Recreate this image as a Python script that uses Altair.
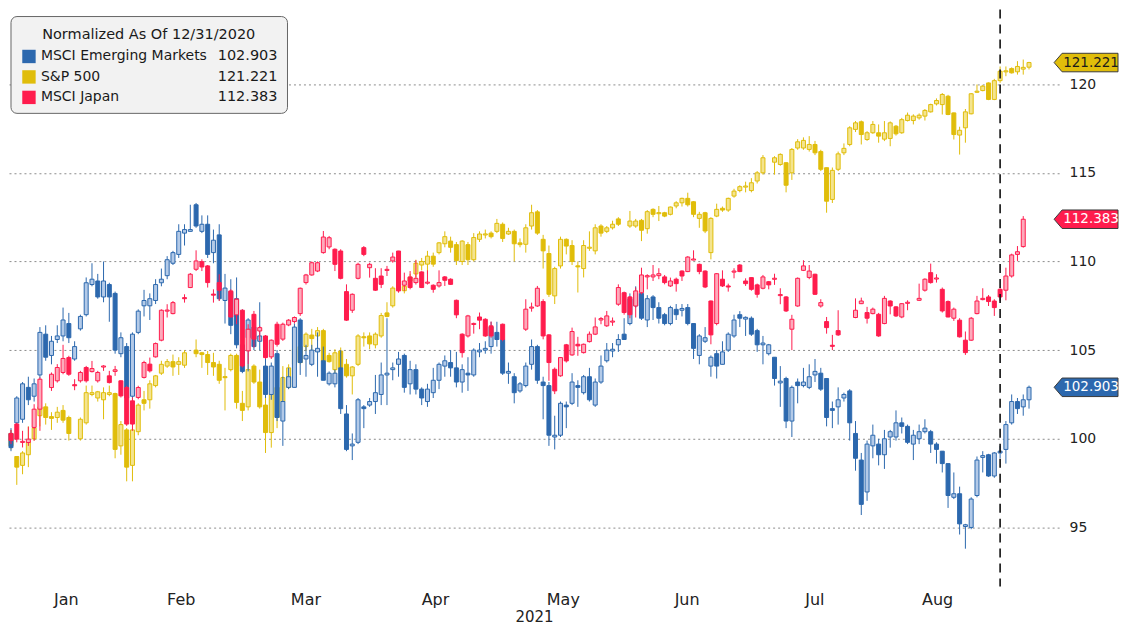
import altair as alt
import pandas as pd

# ---------------- data (normalised to 12/31/2020 = 100) ----------------
N = None
em_open = [
    100.3, 100.9, 101.1, 102.9, 102.4, 103.6, 105.9, 104.7, 105.6, 105.8,
    106.5, 104.5, 106.2, 107.0, 108.7, 108.9, 108.0, 108.7, 108.2, 104.8,
    105.2, 102.4, 106.0, 107.5, 107.5, 107.8, 108.8, 109.2, 109.9, 110.4,
    111.6, 111.7, 113.2, 111.7, 112.1, 110.5, 111.5, 107.8, 108.3, 107.9,
    105.3, 105.7, 106.3, 105.5, 104.1, 102.5, 104.8, 101.0, 102.9, 102.9,
    106.7, 104.5, 104.2, 104.9, 104.4, 103.1, 103.1, 104.0, 101.4, 99.6,
    99.8, 101.8, 101.9, 102.1, 102.5, 103.6, 103.9, 104.2, 104.7, 103.1,
    103.9, 102.8, 102.1, 102.6, 103.3, 104.1, 104.3, 104.0, 103.2, 103.7,
    103.6, 104.9, 105.0, 105.2, 106.0, 105.6, 103.7, 103.5, 102.7, 103.0,
    104.2, 105.2, 103.2, 103.0, 100.1, 100.2, 101.9, 102.0, 103.0, 102.6,
    103.5, 101.9, 103.2, 104.4, 104.95, 105.3, 105.9, 106.5, 107.5, 108.2,
    106.7, 108.0, 107.4, 107.0, 106.5, 107.3, 107.25, 107.4, 106.5, 104.7,
    105.5, 104.1, 104.8, 104.2, 105.0, 105.8, 107.0, 106.75, 106.8, 106.1,
    105.3, 104.8, 104.6, 103.15, 103.4, 101.0, 103.2, 103.0, 102.9, 103.6,
    103.7, 103.4, 101.7, 101.8, 102.3, 102.7, 100.3, 98.8, 97.0, 99.6,
    99.7, 99.1, 100.1, 100.1, 100.9, 100.7, 99.7, 100.0, 100.4, 100.4,
    99.7, 99.3, 98.6, 96.7, 96.9, 95.05, 95.0, 96.8, 98.95, 99.1,
    97.9, 99.2, 99.4, 100.9, 102.1, 101.8, 102.2]
em_close = [
    99.5, 102.3, 103.1, 102.2, 103.1, 106.0, 104.6, 105.5, 105.8, 106.7,
    105.7, 105.2, 106.9, 108.8, 109.0, 108.0, 108.9, 108.0, 105.0, 105.7,
    102.3, 105.9, 107.2, 107.8, 107.9, 108.7, 109.0, 110.1, 110.5, 111.7,
    111.8, 111.8, 112.0, 112.1, 110.4, 111.2, 107.9, 108.5, 106.4, 105.3,
    103.8, 106.7, 105.2, 105.8, 102.5, 104.1, 101.2, 102.1, 103.5, 106.3,
    104.3, 104.7, 105.0, 105.1, 103.3, 103.7, 103.7, 101.7, 99.4, 99.7,
    102.2, 101.7, 102.1, 102.6, 103.6, 103.7, 104.0, 104.5, 102.9, 103.9,
    102.8, 102.3, 102.8, 103.3, 104.2, 104.4, 104.0, 103.2, 103.9, 103.6,
    105.0, 105.0, 105.1, 106.3, 105.6, 103.7, 103.8, 102.6, 103.1, 104.1,
    105.2, 103.3, 103.0, 100.2, 100.2, 102.0, 101.8, 103.2, 102.9, 103.5,
    102.2, 103.2, 104.1, 105.0, 105.05, 105.6, 105.6, 107.9, 108.2, 106.8,
    107.9, 107.4, 106.8, 106.5, 107.4, 107.0, 107.35, 106.5, 105.1, 105.8,
    105.7, 104.6, 104.1, 104.9, 105.9, 106.7, 106.8, 106.85, 105.9, 105.3,
    105.4, 105.3, 103.4, 103.25, 101.0, 102.9, 103.0, 103.2, 103.5, 103.8,
    102.8, 101.2, 101.6, 102.2, 102.5, 100.9, 98.9, 96.3, 99.7, 100.2,
    99.1, 100.0, 100.4, 100.9, 100.7, 99.8, 100.2, 100.4, 100.6, 99.7,
    99.4, 98.6, 96.8, 96.9, 95.2, 95.15, 96.6, 98.8, 99.05, 97.9,
    99.2, 99.3, 100.8, 102.1, 101.7, 102.2, 102.903]
em_high = [
    100.6, 102.4, 103.2, 103.5, 103.4, 106.3, 106.4, 105.8, 106.4, 107.4,
    107.1, 105.5, 107.0, 109.1, 109.9, 109.3, 110.0, 108.8, 108.3, 106.0,
    105.4, 106.0, 107.3, 108.4, 108.2, 109.0, 109.6, 110.3, 110.6, 112.1,
    112.1, 113.2, 113.3, 112.6, 112.6, 111.8, 112.1, 109.3, 109.0, 109.1,
    107.3, 106.8, 106.5, 107.7, 104.5, 104.3, 105.0, 103.5, 104.0, 106.5,
    106.8, 105.3, 105.3, 106.0, 105.2, 103.8, 103.9, 105.0, 101.9, 100.3,
    102.3, 101.9, 102.3, 103.6, 104.3, 106.8, 104.3, 104.9, 104.8, 104.4,
    104.2, 102.9, 103.1, 104.0, 104.3, 104.7, 105.0, 104.9, 104.2, 104.6,
    105.1, 105.4, 105.5, 106.6, 106.6, 105.7, 104.3, 103.7, 103.2, 104.3,
    105.6, 105.3, 103.5, 103.2, 101.3, 102.1, 102.1, 103.7, 103.3, 103.6,
    104.0, 103.4, 104.7, 105.4, 105.4, 105.9, 106.8, 108.2, 108.6, 108.4,
    108.1, 108.1, 107.7, 107.1, 107.5, 107.6, 107.6, 107.6, 106.5, 105.9,
    106.3, 104.7, 105.0, 105.5, 106.0, 107.0, 107.2, 106.9, 106.9, 106.2,
    105.8, 105.35, 104.6, 104.1, 103.5, 103.0, 103.4, 104.0, 104.2, 104.5,
    104.0, 103.4, 102.1, 102.9, 102.6, 102.8, 101.0, 99.2, 99.9, 100.8,
    100.0, 100.5, 100.5, 101.6, 101.2, 100.8, 100.5, 100.8, 101.1, 100.5,
    99.8, 99.3, 98.6, 98.1, 97.3, 95.2, 96.7, 99.0, 99.3, 99.15,
    99.25, 99.6, 101.0, 102.5, 102.3, 102.5, 103.0]
em_low = [
    99.3, 100.5, 100.9, 101.9, 102.1, 103.4, 104.4, 104.2, 105.4, 105.5,
    105.4, 104.4, 106.1, 106.9, 108.6, 107.9, 107.7, 106.6, 104.8, 104.6,
    101.7, 102.2, 105.9, 106.9, 106.7, 107.6, 108.6, 109.0, 109.8, 110.2,
    110.9, 111.7, 111.9, 111.6, 110.2, 109.9, 107.8, 106.5, 105.9, 105.1,
    103.7, 103.8, 105.0, 105.0, 102.3, 102.2, 101.0, 99.6, 102.8, 102.9,
    103.6, 103.5, 104.1, 103.5, 103.3, 103.0, 102.9, 101.4, 99.3, 98.8,
    99.7, 100.6, 101.8, 101.4, 101.9, 101.9, 103.3, 103.5, 102.6, 102.5,
    102.5, 101.9, 101.8, 102.3, 102.8, 103.5, 103.5, 102.9, 102.6, 102.7,
    103.5, 104.6, 104.8, 104.8, 105.2, 103.6, 103.1, 102.0, 102.6, 102.9,
    103.9, 103.1, 101.1, 99.6, 99.4, 100.1, 100.6, 101.9, 101.8, 102.5,
    102.1, 101.8, 103.1, 104.3, 104.6, 104.9, 105.6, 106.4, 107.4, 106.7,
    106.3, 106.7, 106.5, 106.4, 106.4, 106.7, 106.9, 106.4, 104.5, 104.2,
    105.4, 103.5, 103.4, 104.2, 104.9, 105.7, 106.3, 105.8, 105.8, 104.9,
    104.2, 104.7, 103.0, 101.8, 100.6, 100.1, 102.0, 102.9, 102.8, 103.2,
    102.7, 100.7, 100.6, 100.8, 102.1, 99.9, 98.2, 95.7, 96.5, 98.9,
    98.5, 98.3, 99.5, 99.9, 100.3, 99.7, 98.8, 99.7, 100.3, 99.2,
    98.6, 98.1, 96.1, 96.6, 94.6, 93.8, 94.9, 96.7, 98.1, 97.85,
    97.8, 98.9, 98.6, 100.8, 101.4, 101.3, 101.7]

spx_open = [
    100.3, 99.0, 98.5, 99.1, 100.0, 101.3, 101.8, 101.25, 101.2, 101.6,
    101.2, N, 100.0, 100.9, 102.5, 102.3, 102.2, 102.5, 102.55, 99.6,
    100.5, 98.5, 100.4, 102.2, 102.2, 103.0, 103.7, 104.1, 104.35, 104.2,
    104.15, N, 105.0, 104.85, 104.75, 104.3, 104.2, 103.5, 103.9, 104.7,
    102.0, 101.8, 104.1, 103.2, 101.9, 100.35, 102.9, 102.1, 102.9, 104.2,
    105.2, 105.2, 105.85, 105.8, 106.1, 104.7, 103.9, 104.95, 104.2, 103.55,
    104.2, 105.75, 105.8, 105.3, 105.8, 107.1, 107.5, 108.5, 108.35, 108.9,
    109.3, 109.8, 109.85, 110.3, 110.5, 111.0, 111.15, 110.95, 110.0, 110.95,
    110.1, 111.25, 111.5, 111.6, 111.7, 112.1, 111.55, 111.7, 111.05, 110.97,
    112.0, 112.8, 111.25, 110.45, 108.06, 109.75, 111.25, 110.9, 109.75, 109.6,
    110.75, 110.6, 112.0, 111.7, 111.9, 112.4, N, 112.0, 112.0, 112.32,
    111.85, 112.94, 112.7, 112.75, 112.66, 113.13, 113.31, 113.56, 113.37, 112.43,
    112.75, 110.5, 112.56, 113.0, 112.9, 113.69, 114.0, 114.2, 114.0, 114.54,
    115.0, N, 115.6, 115.47, 115.57, 115.0, 116.4, 116.4, 116.32, 116.6,
    116.2, 115.29, 113.5, 115.2, 116.13, 116.6, 117.45, 117.88, 116.88, 117.26,
    117.26, 116.9, 116.94, 117.63, 117.26, 117.95, 117.95, 118.1, 118.2, 118.44,
    118.89, 118.85, 119.32, 118.38, 117.13, 117.54, 118.33, 119.55, 119.64, 120.07,
    119.14, 120.2, 120.7, 120.88, 120.7, 120.85, 120.96]
spx_close = [
    99.6, 98.4, 99.2, 99.85, 100.6, 101.8, 101.2, 101.15, 101.5, 101.05,
    100.3, N, 101.1, 102.6, 102.6, 102.65, 102.6, 102.6, 99.4, 100.8,
    98.4, 100.5, 101.9, 102.0, 103.1, 103.55, 104.2, 104.35, 104.05, 104.35,
    104.85, N, 104.8, 104.75, 104.3, 104.05, 103.3, 103.45, 104.7, 102.05,
    101.6, 103.9, 103.2, 101.8, 100.35, 102.5, 101.2, 103.45, 104.0, 105.05,
    104.3, 105.9, 105.65, 106.1, 104.4, 104.35, 104.85, 104.0, 103.55, 104.05,
    105.8, 105.7, 105.35, 105.9, 106.95, 106.9, 108.5, 108.6, 108.6, 109.1,
    109.9, 110.0, 110.3, 109.85, 111.05, 111.4, 110.8, 110.05, 111.15, 110.1,
    111.35, 111.55, 111.55, 111.4, 112.15, 111.3, 111.7, 111.0, 110.95, 111.9,
    112.75, 111.6, 110.6, 108.15, 109.6, 111.25, 110.87, 110.0, 109.7, 110.9,
    110.8, 111.9, 111.6, 111.9, 112.1, 112.1, N, 112.28, 112.28, 111.76,
    112.81, 112.66, 112.75, 112.56, 113.07, 113.31, 113.56, 113.2, 112.66, 112.66,
    111.72, 112.43, 112.94, 112.9, 113.56, 113.97, 114.22, 114.25, 114.44, 115.0,
    115.85, N, 115.85, 116.04, 114.3, 116.32, 116.75, 116.83, 116.6, 116.13,
    115.2, 113.4, 115.14, 116.07, 116.38, 117.54, 117.82, 117.16, 117.26, 117.73,
    117.07, 117.26, 117.82, 117.2, 118.0, 118.25, 118.2, 118.25, 118.52, 118.85,
    119.08, 119.42, 118.29, 117.16, 117.4, 118.44, 119.46, 119.6, 119.89, 119.14,
    120.2, 120.73, 120.75, 120.64, 121.0, 120.95, 121.221]
spx_high = [
    100.5, 99.0, 99.3, 100.7, 100.9, 102.0, 102.0, 101.5, 101.8, 101.9,
    101.3, N, 101.2, 103.0, 103.0, 102.7, 102.9, 103.0, 102.6, 101.0,
    100.6, 100.6, 102.0, 102.7, 103.3, 103.6, 104.4, 104.5, 104.75, 104.6,
    105.0, N, 105.6, 104.9, 104.95, 104.85, 104.4, 104.0, 104.8, 104.8,
    102.7, 104.2, 104.2, 103.9, 102.5, 102.7, 103.0, 104.1, 104.2, 105.15,
    105.4, 106.0, 106.2, 106.3, 106.2, 104.85, 105.05, 105.15, 104.5, 104.1,
    105.9, 106.0, 106.0, 106.0, 107.1, 107.7, 108.6, 108.9, 108.8, 109.3,
    110.1, 110.2, 110.6, 110.5, 111.1, 111.7, 111.4, 111.1, 111.2, 111.1,
    111.6, 111.7, 111.8, 111.7, 112.4, 112.2, 111.9, 111.8, 111.3, 112.1,
    113.2, 112.9, 111.5, 110.9, 109.7, 111.4, 111.3, 111.2, 110.0, 111.2,
    111.7, 112.1, 112.1, 112.0, 112.3, 112.5, N, 112.85, 112.4, 112.4,
    112.9, 113.0, 113.13, 112.8, 113.1, 113.4, 113.6, 113.88, 113.4, 112.8,
    112.8, 112.5, 113.26, 113.1, 113.6, 114.1, 114.3, 114.5, 114.7, 115.1,
    116.0, N, 115.94, 116.1, 115.6, 116.4, 116.9, 117.0, 117.07, 116.8,
    116.3, 115.3, 115.3, 116.2, 116.66, 117.63, 117.92, 117.95, 117.35, 117.92,
    117.73, 117.92, 117.9, 117.7, 118.1, 118.4, 118.3, 118.35, 118.6, 118.9,
    119.2, 119.5, 119.4, 118.4, 117.6, 118.6, 119.5, 119.98, 119.95, 120.1,
    120.3, 121.0, 121.0, 120.95, 121.3, 121.39, 121.26]
spx_low = [
    99.4, 97.4, 98.0, 98.4, 99.9, 100.7, 100.8, 100.5, 100.9, 100.9,
    99.9, N, 99.9, 100.8, 102.4, 102.1, 101.1, 102.4, 98.9, 99.1,
    97.6, 97.6, 100.2, 101.6, 101.7, 102.9, 103.6, 104.0, 103.55, 103.6,
    104.0, N, 104.6, 104.0, 103.6, 103.55, 103.1, 101.6, 103.8, 101.7,
    101.0, 101.6, 103.1, 101.7, 99.2, 99.5, 100.6, 101.4, 102.8, 104.0,
    104.2, 104.95, 104.95, 105.5, 104.2, 104.3, 103.6, 103.45, 103.45, 102.5,
    104.1, 105.2, 105.05, 105.1, 105.7, 106.85, 107.4, 108.3, 108.2, 108.6,
    109.1, 109.5, 109.3, 109.7, 110.4, 110.8, 110.5, 109.8, 109.8, 109.8,
    110.0, 111.1, 111.3, 111.3, 111.6, 111.1, 111.5, 110.0, 110.8, 110.5,
    111.8, 111.5, 109.6, 108.0, 107.6, 109.6, 110.4, 109.8, 108.25, 109.1,
    110.6, 110.4, 111.4, 111.6, 111.8, 112.0, N, 111.9, 111.9, 111.15,
    111.57, 112.5, 112.28, 112.5, 112.6, 113.0, 113.1, 113.1, 112.5, 111.9,
    111.6, 110.12, 112.5, 112.8, 112.8, 113.6, 113.9, 113.9, 113.9, 114.4,
    114.9, N, 114.9, 115.4, 113.9, 114.6, 116.3, 116.3, 116.2, 116.0,
    115.1, 112.75, 113.3, 115.1, 116.0, 116.5, 117.3, 116.6, 116.8, 117.2,
    116.7, 116.79, 116.5, 117.1, 117.2, 117.9, 117.73, 118.0, 117.95, 118.4,
    118.8, 118.29, 118.25, 116.88, 116.03, 116.7, 118.3, 119.5, 119.6, 119.1,
    119.1, 120.08, 120.45, 120.6, 120.54, 120.54, 120.83]

jpn_open = [
    100.3, 100.83, 99.8, 99.79, 100.64, 101.67, N, 102.89, 103.27, 103.74,
    104.58, 103.04, 103.27, 104.02, 103.79, 103.27, 104.05, 103.55, 103.8, 103.27,
    102.89, 102.14, 102.33, 103.46, 104.21, 104.62, 105.56, 107.21, 107.06, N,
    107.95, 108.53, 109.56, 109.99, 109.75, 108.15, 108.81, N, 108.34, 106.99,
    107.25, 104.96, 107.02, 106.08, 105.8, 104.62, 106.46, 105.62, 106.42, 106.61,
    107.06, 108.81, 109.24, 109.46, 110.5, 110.82, 110.69, 110.59, 108.3, 107.25,
    109.05, 110.78, 109.65, 109.05, 109.18, 109.5, 110.03, 110.59, 108.66, 109.13,
    108.81, 109.41, 108.8, 108.66, 108.62, 109.13, 109.0, 107.81, 105.9, 105.8,
    106.45, 106.87, 106.74, 106.37, N, 106.46, N, N, N, 106.18,
    107.38, 107.49, 107.74, 105.86, 103.92, 103.55, 105.3, 104.73, 105.33, 104.86,
    105.48, 105.9, 106.7, 106.37, 106.6, 107.59, 108.24, 108.0, 107.49, 108.24,
    109.13, 109.13, 109.2, 109.13, 108.62, 109.0, 109.46, 109.43, 110.1, 109.84,
    109.46, 107.77, 106.5, 109.0, 108.6, 109.4, 109.8, 108.9, 109.09, 108.68,
    108.49, 108.86, 109.0, 108.1, 108.0, 106.18, 107.49, 109.5, 109.1, 109.28,
    107.49, 106.61, 105.25, 106.1, N, N, 106.84, 107.62, 107.12, 107.06,
    107.02, 106.5, 107.77, 107.44, 106.87, 107.66, N, 107.81, 108.38, 109.37,
    109.03, 108.43, 107.74, 106.8, 106.69, 105.56, 105.56, 107.06, 107.85, 108.0,
    107.77, 108.43, 108.38, 109.18, 110.4, 110.84, N]
jpn_close = [
    99.9, 99.98, 99.85, 99.98, 101.67, 103.36, N, 103.64, 104.02, 104.53,
    103.64, 103.0, 103.74, 103.27, 103.96, 103.74, 104.1, 103.17, 103.89, 102.42,
    100.83, 100.83, 102.89, 104.3, 103.83, 105.37, 107.25, 107.25, 107.68, N,
    107.91, 109.28, 110.03, 109.69, 108.81, 108.11, 108.38, N, 106.87, 107.87,
    104.11, 106.18, 105.62, 106.27, 104.58, 105.56, 105.33, 106.46, 106.69, 106.84,
    108.49, 109.24, 109.93, 109.93, 111.38, 111.34, 109.84, 109.05, 106.69, 108.15,
    109.84, 110.4, 109.84, 108.38, 108.71, 109.55, 110.25, 108.34, 108.9, 108.53,
    109.05, 108.53, 108.81, 108.43, 108.81, 108.94, 108.71, 106.99, 104.86, 106.93,
    106.5, 106.69, 105.8, 105.8, N, 105.6, N, N, N, 107.31,
    107.42, 108.49, 105.8, 104.3, 102.7, 104.58, 104.39, 106.05, 105.24, 105.33,
    105.9, 106.31, 106.78, 106.93, 106.62, 108.53, 107.12, 107.0, 108.34, 109.24,
    109.2, 109.24, 109.31, 108.81, 108.9, 108.75, 109.18, 110.25, 110.12, 109.43,
    108.56, 105.86, 109.31, 108.62, 108.58, 109.46, 109.43, 108.75, 108.43, 108.15,
    109.13, 108.68, 109.05, 108.11, 107.21, 106.74, 109.05, 109.75, 109.46, 108.15,
    107.68, 106.27, 105.24, 105.86, N, N, 107.25, 107.77, 106.8, 107.31,
    105.8, 107.92, 107.49, 106.93, 107.62, 107.68, N, 107.92, 109.0, 108.81,
    109.05, 107.21, 106.87, 107.31, 105.75, 104.86, 106.8, 107.77, 107.92, 107.74,
    107.4, 108.0, 109.18, 110.37, 110.55, 112.383, N]
jpn_high = [
    100.5, 100.9, 100.45, 100.68, 101.95, 103.46, N, 103.74, 104.21, 105.3,
    104.68, 103.36, 103.83, 104.11, 104.39, 103.83, 104.15, 103.83, 104.11, 103.3,
    102.99, 102.33, 102.99, 104.4, 104.58, 105.43, 107.3, 107.59, 107.77, N,
    108.15, 109.35, 110.63, 110.12, 109.8, 108.43, 109.28, N, 108.43, 107.95,
    107.3, 106.46, 107.21, 106.37, 105.85, 105.6, 106.6, 106.55, 106.75, 106.9,
    108.53, 109.3, 110.0, 110.0, 111.72, 111.44, 110.74, 110.69, 108.71, 108.2,
    109.93, 110.87, 109.93, 109.62, 109.62, 109.75, 110.5, 110.6, 109.37, 109.46,
    110.07, 109.45, 109.5, 108.71, 109.5, 109.18, 109.05, 107.85, 105.95, 106.99,
    106.55, 107.12, 106.8, 106.61, N, 106.5, N, N, N, 107.87,
    107.68, 108.62, 107.87, 105.9, 104.02, 104.6, 105.35, 106.27, 105.75, 105.37,
    106.05, 106.84, 106.87, 107.21, 106.84, 108.71, 108.3, 108.05, 108.53, 109.65,
    109.28, 109.8, 109.62, 109.24, 109.09, 109.09, 109.5, 110.3, 110.63, 109.88,
    109.5, 107.8, 109.35, 109.5, 108.75, 109.62, 109.85, 109.05, 109.1, 108.75,
    109.24, 108.9, 109.31, 108.49, 108.05, 106.99, 109.1, 110.07, 109.8, 109.31,
    107.87, 106.87, 105.86, 107.25, N, N, 107.92, 107.96, 107.44, 107.4,
    107.1, 108.06, 107.81, 107.49, 107.65, 107.81, N, 108.75, 109.05, 109.88,
    109.28, 108.53, 107.8, 107.4, 106.8, 106.05, 106.87, 108.06, 108.49, 108.11,
    107.87, 108.53, 109.65, 110.44, 110.87, 112.56, N]
jpn_low = [
    99.7, 99.8, 99.51, 99.6, 99.89, 100.45, N, 102.7, 103.17, 103.64,
    103.55, 102.74, 103.17, 103.17, 103.74, 103.17, 103.83, 103.12, 103.55, 102.33,
    100.73, 100.45, 102.23, 103.4, 103.74, 104.58, 105.5, 106.84, 107.02, N,
    107.68, 108.5, 109.46, 109.46, 108.53, 107.68, 107.77, N, 106.84, 106.46,
    104.02, 104.21, 105.15, 105.52, 104.5, 104.5, 105.2, 105.52, 106.35, 106.5,
    106.93, 108.7, 109.2, 109.4, 110.44, 110.69, 109.46, 108.99, 106.65, 107.1,
    108.99, 110.3, 109.09, 108.34, 108.5, 109.18, 109.93, 108.24, 108.34, 108.43,
    108.7, 108.5, 108.7, 108.24, 108.53, 108.62, 108.68, 106.8, 104.58, 105.71,
    105.93, 106.18, 105.75, 105.7, N, 105.5, N, N, N, 106.08,
    107.17, 107.44, 105.61, 103.27, 102.52, 103.5, 104.3, 104.68, 104.68, 104.81,
    105.43, 105.85, 106.46, 106.31, 106.37, 107.5, 107.0, 106.8, 106.84, 108.15,
    108.43, 108.9, 109.0, 108.71, 108.56, 108.3, 108.9, 109.4, 110.07, 109.28,
    108.5, 105.33, 106.4, 108.56, 108.3, 109.05, 109.4, 108.62, 108.35, 107.96,
    108.43, 108.43, 108.68, 107.59, 107.15, 105.0, 107.45, 109.46, 109.0, 108.11,
    107.4, 105.93, 105.0, 105.8, N, N, 106.8, 107.6, 106.5, 107.02,
    105.75, 106.46, 107.02, 106.87, 106.8, 107.25, N, 107.77, 108.3, 108.75,
    108.81, 107.12, 106.85, 106.65, 105.71, 104.73, 105.52, 107.02, 107.81, 107.49,
    106.93, 107.77, 107.81, 109.09, 110.03, 110.78, N]

series_names = ["MSCI Emerging Markets", "S&P 500", "MSCI Japan"]
month_names = ["Jan", "Feb", "Mar", "Apr", "May", "Jun", "Jul", "Aug"]
month_label_pos = [9.49, 29.34, 50.9, 73.3, 95.4, 116.8, 138.9, 160.1]
y_ticks = [95, 100, 105, 110, 115, 120]
marker_index = 171
legend_title = "Normalized As Of 12/31/2020"
year_label = "2021"

# ---------------- styling ----------------
FONT = "DejaVu Sans"
W, H = 1052, 578
X_DOMAIN = [-0.345, 181.2]
Y_DOMAIN = [91.667, 124.21]
styles = {
    "MSCI Emerging Markets": dict(col="#2c68ae", light="#b3cae8", tag_text="white"),
    "S&P 500": dict(col="#e0bd0a", light="#f4e48e", tag_text="#1a1a1a"),
    "MSCI Japan": dict(col="#ff1c4d", light="#fdaabb", tag_text="white"),
}
raw = {
    "MSCI Emerging Markets": (em_open, em_close, em_high, em_low),
    "S&P 500": (spx_open, spx_close, spx_high, spx_low),
    "MSCI Japan": (jpn_open, jpn_close, jpn_high, jpn_low),
}


def build(name):
    o, c, h, l = raw[name]
    assert len(o) == len(c) == len(h) == len(l)
    rows = []
    for i in range(len(o)):
        if o[i] is None:
            continue
        lo, hi = min(o[i], c[i]), max(o[i], c[i])
        if hi - lo < 0.06:
            m = (hi + lo) / 2
            lo, hi = m - 0.03, m + 0.03
        rows.append(dict(idx=i, open=o[i], close=c[i], high=max(h[i], hi), low=min(l[i], lo),
                         lo=lo, hi=hi, up=bool(c[i] >= o[i])))
    return pd.DataFrame(rows)


frames = {n: build(n) for n in series_names}

label_expr = " : ".join(f"datum.value == {p!r} ? '{m}'" for p, m in zip(month_label_pos, month_names)) + " : ''"
x_scale = alt.Scale(domain=X_DOMAIN, nice=False, zero=False, padding=0)
y_scale = alt.Scale(domain=Y_DOMAIN, nice=False, zero=False, padding=0)
x_axis = alt.Axis(values=month_label_pos, labelExpr=label_expr, title=year_label, grid=False,
                  domain=False, ticks=False, labelPadding=5, titlePadding=2,
                  labelFont=FONT, labelFontSize=16, titleFont=FONT, titleFontSize=15,
                  titleFontWeight="normal", labelColor="#222222", titleColor="#222222",
                  labelOverlap=False, labelFlush=False)
y_axis = alt.Axis(orient="right", values=y_ticks, title=None, grid=True, gridDash=[2, 3],
                  gridColor="#8c8c8c", gridWidth=1, domain=False, ticks=False, labelPadding=10,
                  labelFont=FONT, labelFontSize=14, labelColor="#222222")


def X(field):
    return alt.X(field, type="quantitative", scale=x_scale, axis=x_axis)


def Y(field):
    return alt.Y(field, type="quantitative", scale=y_scale, axis=y_axis)


layers = []
for name in ["S&P 500", "MSCI Emerging Markets", "MSCI Japan"]:
    st = styles[name]
    df = frames[name]
    base = alt.Chart(df)
    layers.append(base.mark_rule(color=st["col"], strokeWidth=1).encode(
        x=X("idx"), y=Y("low"), y2="high"))
    layers.append(base.mark_bar(size=4, stroke=st["col"], strokeWidth=1).encode(
        x=X("idx"), y=Y("lo"), y2="hi",
        fill=alt.condition("datum.up", alt.value(st["light"]), alt.value(st["col"]))))

# dashed marker line
layers.append(alt.Chart(pd.DataFrame({"idx": [marker_index]})).mark_rule(
    color="#111111", strokeWidth=1.6, strokeDash=[9, 6]).encode(x=X("idx")))

# right-hand value tags
TAG_PATH = "M -1 0 L -0.75 -0.29 L 1 -0.29 L 1 0.29 L -0.75 0.29 Z"
for name in series_names:
    st = styles[name]
    df = frames[name]
    last = df.iloc[-1]
    tag = pd.DataFrame({"val": [last["close"]], "label": [f"{last['close']:.3f}"]})
    tb = alt.Chart(tag)
    layers.append(tb.mark_point(shape=TAG_PATH, size=4096, filled=True, fill=st["col"],
                                stroke="#3a3a3a", strokeWidth=1, opacity=1).encode(
        x=alt.value(1079), y=Y("val")))
    layers.append(tb.mark_text(font=FONT, fontSize=13.5, color=st["tag_text"], align="center",
                               baseline="middle").encode(
        x=alt.value(1084), y=Y("val"), text="label:N"))

# legend box
one = pd.DataFrame({"k": [0]})
layers.append(alt.Chart(one).mark_rect(fill="#f2f2f2", stroke="#666666", strokeWidth=1,
                                       cornerRadius=6).encode(
    x=alt.value(2), x2=alt.value(279), y=alt.value(7), y2=alt.value(104)))
layers.append(alt.Chart(pd.DataFrame({"t": [legend_title]})).mark_text(
    font=FONT, fontSize=14.5, color="#1a1a1a", align="center", baseline="middle").encode(
    x=alt.value(140), y=alt.value(26), text="t:N"))
for k, name in enumerate(series_names):
    st = styles[name]
    df = frames[name]
    row = pd.DataFrame({"name": [name], "val": [f"{df.iloc[-1]['close']:.3f}"]})
    yy = 47 + 20.5 * k
    rb = alt.Chart(row)
    layers.append(rb.mark_square(size=180, filled=True, color=st["col"], opacity=1).encode(
        x=alt.value(20), y=alt.value(yy)))
    layers.append(rb.mark_text(font=FONT, fontSize=14, color="#1a1a1a", align="left",
                               baseline="middle").encode(
        x=alt.value(32), y=alt.value(yy), text="name:N"))
    layers.append(rb.mark_text(font=FONT, fontSize=14.5, color="#1a1a1a", align="right",
                               baseline="middle").encode(
        x=alt.value(269), y=alt.value(yy), text="val:N"))

chart = alt.layer(*layers).properties(width=W, height=H, padding=0, background="white")
chart = chart.configure_view(strokeWidth=0)
chart.save("out.html", embed_options={"renderer": "svg", "actions": False})
